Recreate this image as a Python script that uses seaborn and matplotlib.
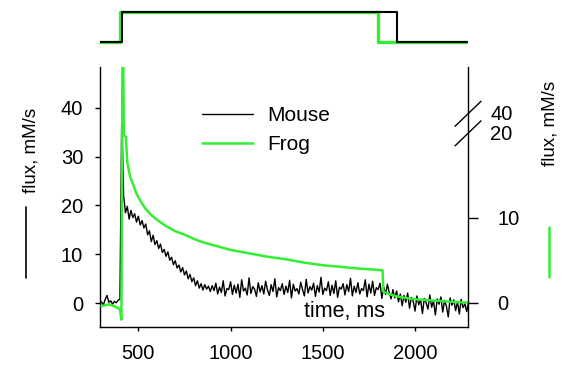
import numpy as np
import pandas as pd
import matplotlib
matplotlib.use('Agg')
import matplotlib.pyplot as plt
import seaborn as sns
from matplotlib.lines import Line2D

# mouse flux (left axis, mM/s), sampled every 10 ms from 300 ms
mouse_flux = [
    0.3, -0.4, 0.8, 1.6, 0.2, 0.5, -0.2, 0.4, 0.1, 0.6, 0.9,
    38.8, 22.0, 18.5, 19.8, 17.2, 19.0, 17.5, 18.3, 16.6, 17.8,
    16.0, 16.9, 15.4, 16.2, 14.0, 14.8, 12.6, 13.9, 12.0, 12.8,
    11.2, 12.1, 10.4, 11.0, 9.6, 10.5, 8.8, 9.4, 7.9, 8.7,
    7.2, 7.8, 6.4, 7.3, 5.8, 6.6, 5.0, 5.9, 4.4, 5.2,
    3.6, 4.6, 3.1, 4.0, 2.7, 3.8, 2.9, 3.5, 2.4, 3.6,
    2.6, 4.1, 1.9, 3.3, 2.2, 4.6, 1.5, 3.0, 2.8, 4.4,
    1.8, 3.7, 2.1, 3.9, 1.2, 4.8, 2.5, 3.1, 1.7, 5.2,
    2.0, 3.4, 2.9, 1.4, 4.2, 2.3, 3.6, 1.9, 4.5, 2.7,
    1.6, 3.8, 2.4, 5.0, 1.3, 3.2, 2.6, 4.0, 1.8, 3.5,
    2.2, 4.7, 1.1, 3.9, 2.5, 3.0, 1.9, 4.3, 2.8, 1.5,
    4.9, 2.1, 3.4, 2.7, 4.1, 1.4, 3.6, 2.3, 5.3, 1.8,
    3.1, 2.6, 4.4, 1.6, 3.7, 2.0, 4.6, 1.2, 3.3, 2.9,
    4.0, 1.7, 3.8, 2.4, 5.1, 1.5, 3.5, 2.2, 4.2, 1.9,
    3.0, 2.6, 4.8, 1.3, 3.9, 2.1, 4.5, 1.6, 3.2, 2.8,
    4.1, 1.0,
    3.4, 1.8, 3.9, 2.2, 0.9, 2.8, 1.1, 2.5, 0.3, 1.9,
    -0.5, 1.6, 0.2, 2.1, -1.0, 1.2, 0.4, -1.6, 1.5, -0.3,
    0.8, -2.1, 1.0, 0.1, -1.2, 1.7, -0.8, 0.5, -2.4, 0.9,
    -0.2, 1.3, -1.8, 0.6, -0.6, -2.8, 1.1, -0.4, 0.7, -1.5,
    0.3, -2.2, 0.8, -0.9, -0.1, -1.7, 0.2,
]
mouse_time = 300 + 10 * np.arange(len(mouse_flux))

# frog flux (right axis, mM/s)
frog_time = [300, 340, 380, 400, 408, 414, 418, 421, 432, 440, 455, 470, 490, 510,
             540, 570, 610, 650, 700, 750, 800, 850, 900, 950, 1000, 1100, 1200,
             1300, 1400, 1500, 1600, 1700, 1800, 1824, 1828, 1860, 1900, 1950,
             2000, 2100, 2200, 2290]
frog_flux = [-0.4, -0.2, -0.5, -0.8, -2.0, 100, 100, 19.7, 19.5, 16.5, 14.8, 14.0,
             12.8, 12.0, 11.0, 10.3, 9.6, 9.0, 8.4, 8.0, 7.5, 7.1, 6.8, 6.5, 6.2,
             5.8, 5.4, 5.1, 4.7, 4.4, 4.2, 4.0, 3.85, 3.8, 1.3, 1.0, 0.75, 0.55,
             0.4, 0.25, 0.1, 0.0]

# stimulus pulses (top trace)
mouse_pulse_t = [292, 410, 1900, 2282]
frog_pulse_t = [292, 400, 1800, 2282]
pulse_level = [0, 1, 0, 0]

x_ticks = [500, 1000, 1500, 2000]
left_ticks = [0, 10, 20, 30, 40]

BREAK = 20
SQUEEZE = 0.115  # right axis above the break: 20 -> 40 takes 2.3 units


def squeeze(v):
    v = np.asarray(v, dtype=float)
    return np.where(v <= BREAK, v, BREAK + (v - BREAK) * SQUEEZE)


GREEN = '#33ee33'
W, H = 562, 369

sns.set_style('ticks')
plt.rcParams['font.family'] = ['Liberation Sans', 'DejaVu Sans']
plt.rcParams.update({'text.color': 'black', 'axes.labelcolor': 'black',
                     'xtick.color': 'black', 'ytick.color': 'black',
                     'axes.edgecolor': 'black'})

fig = plt.figure(figsize=(W / 100, H / 100), dpi=100)
ax = fig.add_axes([100 / W, 42 / H, 368 / W, 260 / H])
ax2 = ax.twinx()
top = fig.add_axes([100 / W, (H - 52) / H, 368 / W, 50 / H], sharex=ax)

mouse_df = pd.DataFrame({'t': mouse_time, 'flux': mouse_flux})
frog_df = pd.DataFrame({'t': frog_time, 'flux': squeeze(frog_flux)})

sns.lineplot(data=mouse_df, x='t', y='flux', ax=ax, color='black', lw=1.0,
             estimator=None, label='Mouse', legend=False)
sns.lineplot(data=frog_df, x='t', y='flux', ax=ax2, color=GREEN, lw=1.8,
             estimator=None, label='Frog', legend=False)

# pulse traces
sns.lineplot(x=frog_pulse_t, y=pulse_level, ax=top, color=GREEN, lw=2.4,
             drawstyle='steps-post', estimator=None, sort=False)
sns.lineplot(x=mouse_pulse_t, y=pulse_level, ax=top, color='black', lw=1.5,
             drawstyle='steps-post', estimator=None, sort=False)
top.set_ylim(-0.33, 1.33)
top.axis('off')

ax.set_xlim(292, 2287)
ax.set_ylim(-4.85, 48.3)
ax2.set_ylim(-2.86, 27.7)

ax.set_xticks(x_ticks)
ax.set_yticks(left_ticks)
ax.set_xlabel('')
ax.set_ylabel('')
ax2.set_ylabel('')
ax.tick_params(axis='x', length=3, width=1, pad=9, labelsize=14.5)
ax.tick_params(axis='y', length=3.6, width=1, pad=8.5, labelsize=14.5)

ax2.set_yticks([0, 10])
ax2.set_yticks([BREAK, float(squeeze(40))], ['20', '40'], minor=True)
ax2.tick_params(axis='y', which='major', length=7, width=1, pad=14, labelsize=14.5)
ax2.tick_params(axis='y', which='minor', length=0, pad=16, labelsize=14.5)

for a in (ax, ax2):
    a.spines['top'].set_visible(False)
ax.spines['right'].set_visible(False)
ax2.spines['left'].set_visible(False)
ax2.spines['bottom'].set_visible(False)
for a in (ax, ax2):
    for s in a.spines.values():
        s.set_linewidth(1.0)
        s.set_color('black')

# break marks on the right axis
dx = 13 / 368
dy = 12.5 / 8.5
for yb in (19.9, 22.2):
    ax2.plot([1 - dx, 1 + dx], [yb - dy, yb + dy], color='black', lw=1.0,
             transform=ax2.get_yaxis_transform(), clip_on=False)

fig.text(345 / W, 1 - 312 / H, 'time, ms', ha='center', va='center', fontsize=15.5)

# axis labels with line keys
fig.text(31 / W, 1 - 150 / H, 'flux, mM/s', rotation=90, ha='center', va='center', fontsize=13.5)
fig.add_artist(Line2D([26 / W, 26 / W], [1 - 207 / H, 1 - 278 / H], color='black', lw=1.2))
fig.text(550 / W, 1 - 123 / H, 'flux, mM/s', rotation=90, ha='center', va='center', fontsize=13.5)
fig.add_artist(Line2D([549 / W, 549 / W], [1 - 227 / H, 1 - 277 / H], color=GREEN, lw=1.8))

handles = [Line2D([0], [0], color='black', lw=1.0, label='Mouse'),
           Line2D([0], [0], color=GREEN, lw=1.8, label='Frog')]
ax2.legend(handles=handles, loc='upper left', bbox_to_anchor=(202 / W, 1 - 106 / H),
           bbox_transform=fig.transFigure, frameon=False, fontsize=15,
           handlelength=2.45, handletextpad=0.67, labelspacing=0.5,
           borderpad=0, borderaxespad=0)

fig.savefig('out.png', dpi=100)
